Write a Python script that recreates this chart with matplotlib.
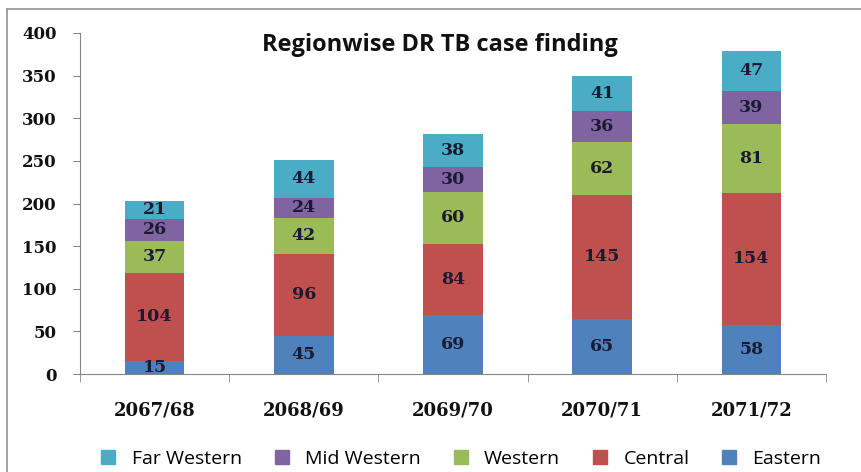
import matplotlib
matplotlib.use("Agg")
import matplotlib.pyplot as plt
from matplotlib.lines import Line2D
import numpy as np

years = ["2067/68", "2068/69", "2069/70", "2070/71", "2071/72"]
eastern = [15, 45, 69, 65, 58]
central = [104, 96, 84, 145, 154]
western = [37, 42, 60, 62, 81]
mid_western = [26, 24, 30, 36, 39]
far_western = [21, 44, 38, 41, 47]

series = [
    ("Eastern", eastern, "#4F81BD"),
    ("Central", central, "#C0504D"),
    ("Western", western, "#9BBB59"),
    ("Mid Western", mid_western, "#8064A2"),
    ("Far Western", far_western, "#4BACC6"),
]

num_font = "DejaVu Serif"
txt_font = "Open Sans"
label_color = "#1a1a33"
axis_color = "#868686"

fig = plt.figure(figsize=(8.62, 4.72), dpi=100)
ax = fig.add_axes([0.0928, 0.2076, 0.8654, 0.7225])

x = np.arange(len(years))
bottom = np.zeros(len(years))
for name, vals, color in series:
    vals = np.array(vals, dtype=float)
    ax.bar(x, vals, width=0.4, bottom=bottom, color=color, label=name, zorder=2)
    for xi, b, v in zip(x, bottom, vals):
        ax.text(xi, b + v / 2, f"{int(v)}", ha="center", va="center",
                fontsize=12.5, fontweight="bold", family=num_font, color=label_color)
    bottom += vals

ax.set_xlim(-0.5, len(years) - 0.5)
ax.set_ylim(0, 400)
ax.set_yticks(range(0, 401, 50))
ax.set_yticklabels([str(v) for v in range(0, 401, 50)], family=num_font,
                   fontsize=12, fontweight="bold", color="#111111")
ax.tick_params(axis="y", direction="out", length=5, color=axis_color, pad=12)

ax.set_xticks(x)
ax.set_xticklabels(years, family=num_font, fontsize=13, fontweight="bold", color="#111111")
ax.tick_params(axis="x", which="major", length=0, pad=20)
ax.set_xticks(np.arange(-0.5, len(years)), minor=True)
ax.tick_params(axis="x", which="minor", direction="out", length=6, color=axis_color)

for s in ["top", "right"]:
    ax.spines[s].set_visible(False)
for s in ["left", "bottom"]:
    ax.spines[s].set_color(axis_color)

ax.text(0.482, 0.965, "Regionwise DR TB case finding", transform=ax.transAxes,
        ha="center", va="center", fontsize=17, fontweight="bold", family=txt_font,
        color="#111111")

order = ["Far Western", "Mid Western", "Western", "Central", "Eastern"]
colors = {n: c for n, _, c in series}
legend_handles = [Line2D([0], [0], marker="s", linestyle="none", markersize=10,
                         markerfacecolor=colors[n], markeredgecolor=colors[n]) for n in order]
fig.legend(legend_handles, order, loc="center", bbox_to_anchor=(0.528, 0.028), ncol=5,
           frameon=False, prop={"family": txt_font, "size": 14}, handletextpad=0.2,
           columnspacing=1.05)

# outer frame of the chart area
fig.add_artist(Line2D([7 / 862, 7 / 862], [0, 1 - 9 / 472], color="#9a9a9a", lw=1.3,
                      transform=fig.transFigure))
fig.add_artist(Line2D([7 / 862, 1], [1 - 9 / 472, 1 - 9 / 472], color="#9a9a9a", lw=1.3,
                      transform=fig.transFigure))

fig.savefig("out.png", dpi=100)
